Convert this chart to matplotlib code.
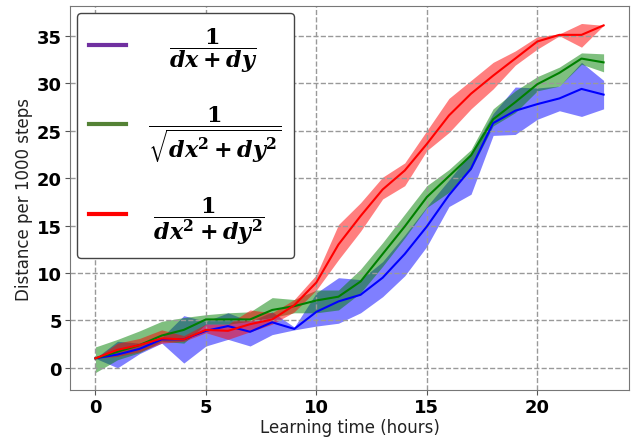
import matplotlib
matplotlib.use("Agg")
import matplotlib.pyplot as plt
import numpy as np

hours = list(range(24))

blue_mean = [1.0, 1.4, 2.0, 3.0, 3.0, 3.9, 4.4, 3.8, 4.8, 4.1, 5.9, 7.0, 7.7, 9.5, 12.0, 14.9, 18.2, 21.0, 25.8, 27.1, 27.8, 28.4, 29.4, 28.8]
blue_low = [1.0, 0.0, 1.5, 2.6, 0.5, 2.3, 3.0, 2.3, 3.5, 4.0, 4.4, 4.7, 5.8, 7.5, 9.7, 12.8, 17.0, 18.3, 24.5, 24.6, 26.2, 27.1, 26.5, 27.3]
blue_high = [1.0, 2.8, 2.6, 3.2, 5.5, 4.9, 5.8, 4.9, 5.9, 4.3, 7.9, 9.5, 9.3, 11.2, 14.0, 17.0, 19.8, 22.7, 26.8, 29.6, 29.5, 29.7, 32.2, 30.3]

green_mean = [1.0, 1.7, 2.4, 3.4, 4.0, 5.1, 5.1, 5.1, 6.1, 6.5, 7.1, 7.5, 9.1, 12.0, 14.9, 18.0, 20.2, 22.4, 26.2, 28.0, 29.9, 31.1, 32.6, 32.2]
green_low = [-0.5, 0.85, 1.6, 2.8, 2.6, 4.6, 4.6, 4.9, 5.3, 5.8, 5.8, 6.1, 7.9, 10.7, 13.7, 16.9, 18.5, 20.9, 25.5, 26.9, 29.2, 29.7, 32.0, 31.2]
green_high = [2.2, 3.0, 3.9, 4.9, 5.3, 5.6, 5.8, 5.9, 7.4, 7.2, 8.2, 8.2, 10.4, 13.2, 16.2, 19.2, 20.9, 23.0, 27.3, 29.2, 30.7, 31.7, 33.2, 33.1]

red_mean = [1.0, 1.9, 2.4, 3.1, 3.0, 4.0, 3.9, 4.6, 5.1, 6.6, 9.0, 13.0, 16.0, 18.8, 20.8, 23.6, 26.6, 28.9, 30.8, 32.6, 34.4, 35.1, 35.1, 36.1]
red_low = [1.0, 1.2, 1.7, 2.6, 2.8, 3.7, 3.0, 3.8, 4.6, 5.9, 8.2, 11.4, 14.4, 17.8, 19.2, 22.9, 24.8, 27.3, 29.4, 31.9, 33.6, 35.0, 33.8, 36.1]
red_high = [1.0, 2.6, 3.1, 4.0, 3.4, 4.6, 4.6, 6.1, 5.8, 7.2, 9.8, 15.1, 17.4, 20.1, 21.6, 25.0, 28.4, 30.3, 32.2, 33.4, 34.9, 35.2, 36.3, 36.1]

labels = [r'$\quad\dfrac{\mathbf{1}}{\mathbfit{dx}\:\mathbf{+}\:\mathbfit{dy}}$',
          r'$\dfrac{\mathbf{1}}{\sqrt{\mathbfit{dx}^{\mathbf{2}}\:\mathbf{+}\:\mathbfit{dy}^{\mathbf{2}}}}$',
          r'$\;\dfrac{\mathbf{1}}{\mathbfit{dx}^{\mathbf{2}}\:\mathbf{+}\:\mathbfit{dy}^{\mathbf{2}}}$']
legend_colors = ['#7030A0', '#548235', '#FF0000']

plt.rcParams['mathtext.fontset'] = 'dejavuserif'

fig = plt.figure(figsize=(6.33, 4.39), dpi=100)
ax = fig.add_axes([0.1106, 0.1093, 0.8831, 0.8747])

ax.fill_between(hours, blue_low, blue_high, color='blue', alpha=0.5, linewidth=0)
ax.fill_between(hours, green_low, green_high, color='green', alpha=0.5, linewidth=0)
ax.fill_between(hours, red_low, red_high, color='red', alpha=0.5, linewidth=0)
ax.plot(hours, blue_mean, color='blue', lw=1.5)
ax.plot(hours, green_mean, color='green', lw=1.5)
ax.plot(hours, red_mean, color='red', lw=1.5)

handles = [ax.plot([], [], color=c, lw=3)[0] for c in legend_colors]
leg = ax.legend(handles, labels, loc='upper left', fontsize=16, handlelength=1.67,
                labelspacing=1.35, borderaxespad=0.3, fancybox=True, framealpha=1,
                edgecolor='#444444', handletextpad=1.0, borderpad=0.55)
leg.get_frame().set_linewidth(1.0)

ax.set_xticks([0, 5, 10, 15, 20])
ax.set_yticks([0, 5, 10, 15, 20, 25, 30, 35])
for lab in ax.get_xticklabels() + ax.get_yticklabels():
    lab.set_fontweight('bold')
    lab.set_fontsize(13)
ax.tick_params(colors='#555555', labelcolor='black', pad=2.5)
ax.grid(True, linestyle='--', color='#999999', linewidth=1.0)
for s in ax.spines.values():
    s.set_color('#777777')
ax.set_xlabel('Learning time (hours)', fontsize=12, color='#222222', labelpad=1)
ax.set_ylabel('Distance per 1000 steps', fontsize=12, color='#222222', labelpad=3)

fig.savefig('out.png', dpi=100)
